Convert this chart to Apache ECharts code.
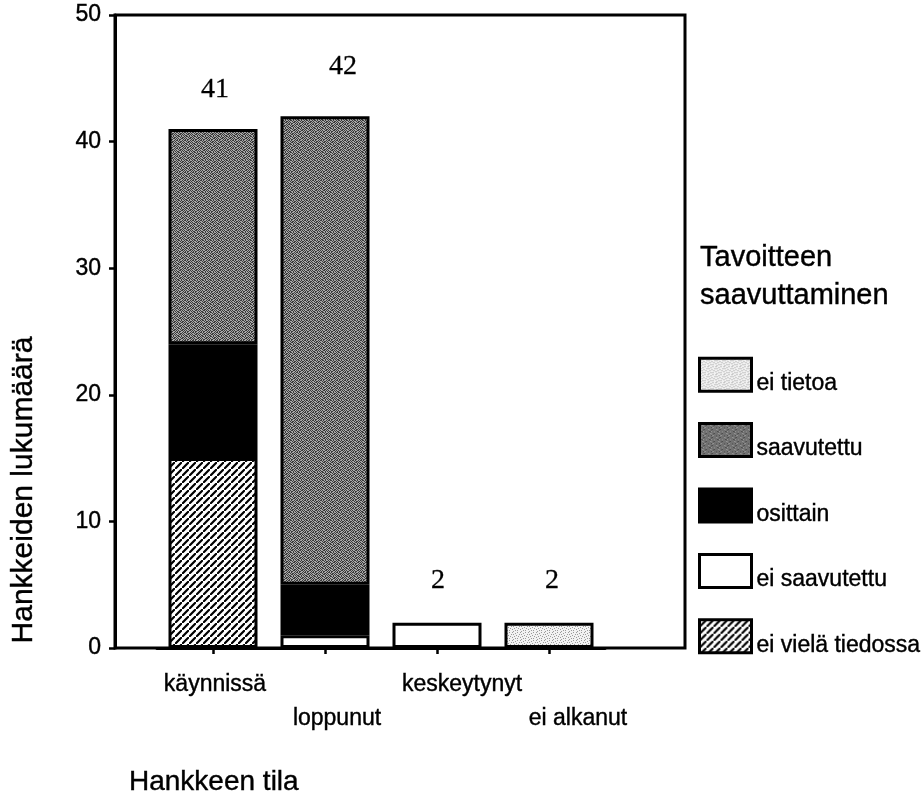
<!DOCTYPE html>
<html>
<head>
<meta charset="utf-8">
<script src="https://cdn.jsdelivr.net/npm/echarts@6/dist/echarts.min.js"></script>
<style>
  html, body { margin: 0; padding: 0; background: #fff; }
  #chart { width: 922px; height: 798px; }
</style>
</head>
<body>
<div id="chart"></div>
<script>
// Hankkeen tila (x) ja tavoitteen saavuttaminen (pinotut osat)
const categories = ['käynnissä', 'loppunut', 'keskeytynyt', 'ei alkanut'];
const eiVielaTiedossa = [15, 0, 0, 0];
const eiSaavutettu    = [0, 1, 2, 0];
const osittain        = [9, 4, 0, 0];
const saavutettu      = [17, 37, 0, 0];
const eiTietoa        = [0, 0, 0, 2];
const yTickValues     = [0, 10, 20, 30, 40, 50];

const SANS = 'Liberation Sans, Arial, sans-serif';
const SERIF = 'Liberation Serif, Times New Roman, serif';
// slight stroke to give the text its heavier printed look
const INK = { textBorderColor: '#000', textBorderWidth: 0.4 };

// Fill textures for the bar segments
function tile(w, h, draw) {
  const c = document.createElement('canvas');
  c.width = w; c.height = h;
  draw(c.getContext('2d'));
  return { image: c, repeat: 'repeat' };
}
function bitmap(rows, on, off) {
  return tile(rows[0].length, rows.length, g => {
    rows.forEach((r, y) => {
      for (let x = 0; x < r.length; x++) {
        g.fillStyle = r[x] === '1' ? on : off;
        g.fillRect(x, y, 1, 1);
      }
    });
  });
}
const hatchFill = tile(7, 7, g => {
  g.fillStyle = '#fff'; g.fillRect(0, 0, 7, 7);
  g.strokeStyle = '#000'; g.lineWidth = 2.2;
  g.beginPath();
  g.moveTo(-2, 9); g.lineTo(9, -2);
  g.moveTo(-5, 2); g.lineTo(2, -5);
  g.moveTo(5, 12); g.lineTo(12, 5);
  g.stroke();
});
const darkGrayFill = bitmap([
  '10110100', '01001011', '10100110', '01011001',
  '11010010', '00101101', '10011010', '01100101'
], '#3a3a3a', '#a8a8a8');
const lightGrayFill = bitmap([
  '10000100', '00010000', '01000001', '00001000',
  '00100010', '10000000', '00010100', '01000000'
], '#9a9a9a', '#f2f2f2');

const totals = categories.map((_, i) =>
  eiVielaTiedossa[i] + eiSaavutettu[i] + osittain[i] + saavutettu[i] + eiTietoa[i]);

// Label placement tweaks (pixels)
const totalLabelOffsets = [[2, -39], [18, -50], [1, -42], [3, -42]];
const catLabelPadding = [[0, 0, 0, 4], [34, 0, 0, 24], [0, 0, 0, 50], [34, 0, 0, 58]];

const rich = {};
catLabelPadding.forEach((p, i) => {
  rich['c' + i] = Object.assign({ fontFamily: SANS, fontSize: 23, color: '#000', padding: p }, INK);
});

function segment(name, values, fill) {
  return {
    name, type: 'bar', stack: 'tila', xAxisIndex: 1, yAxisIndex: 1,
    barWidth: 89,
    data: values.map(v => (v === 0 ? '-' : v)),
    itemStyle: { color: fill, borderColor: '#000', borderWidth: 3 },
    emphasis: { disabled: true }
  };
}

const chart = echarts.init(document.getElementById('chart'), null, { renderer: 'canvas' });
chart.setOption({
  animation: false,
  backgroundColor: '#fff',
  title: [
    {
      text: 'Tavoitteen\nsaavuttaminen', left: 695, top: 234,
      textStyle: Object.assign({ fontFamily: SANS, fontSize: 29, fontWeight: 'normal', color: '#000', lineHeight: 38 }, INK)
    },
    {
      text: 'Hankkeen tila', left: 124, top: 763,
      textStyle: Object.assign({ fontFamily: SANS, fontSize: 28, fontWeight: 'normal', color: '#000' }, INK)
    }
  ],
  graphic: [{
    type: 'text', x: 24, y: 490, rotation: Math.PI / 2,
    style: { text: 'Hankkeiden lukumäärä', fontFamily: SANS, fontSize: 30, fill: '#000', stroke: '#000', lineWidth: 0.4, align: 'center', verticalAlign: 'middle' }
  }],
  legend: {
    orient: 'vertical', left: 698, top: 354, padding: 0,
    icon: 'rect',
    itemWidth: 52, itemHeight: 33, itemGap: 24,
    selectedMode: false,
    data: ['ei tietoa', 'saavutettu', 'osittain', 'ei saavutettu', 'ei vielä tiedossa'],
    itemStyle: { borderColor: '#000', borderWidth: 3 },
    formatter: name => '\n' + name,
    textStyle: Object.assign({ fontFamily: SANS, fontSize: 23, color: '#000', lineHeight: 18 }, INK)
  },
  grid: [
    { left: 115, top: 15, width: 570, height: 633, show: true, borderColor: '#000', borderWidth: 3, backgroundColor: 'transparent' },
    { left: 157, top: 15, width: 448, height: 633 }
  ],
  xAxis: [
    { gridIndex: 0, type: 'value', min: 0, max: 1, show: false },
    {
      gridIndex: 1, type: 'category', data: categories,
      axisLine: { show: true, lineStyle: { color: '#000', width: 3 } },
      axisTick: { show: true, alignWithLabel: true, length: 6, lineStyle: { color: '#000', width: 2.5 } },
      axisLabel: {
        margin: 25, interval: 0,
        formatter: (v, i) => '{c' + i + '|' + v + '}',
        rich
      }
    }
  ],
  yAxis: [
    {
      gridIndex: 0, type: 'value', min: yTickValues[0], max: yTickValues[yTickValues.length - 1], interval: 10,
      axisLine: { show: true, lineStyle: { color: '#000', width: 3 } },
      axisTick: { show: true, length: 6, lineStyle: { color: '#000', width: 2.5 } },
      axisLabel: Object.assign({ margin: 14, fontFamily: SANS, fontSize: 23, color: '#000' }, INK),
      splitLine: { show: false }
    },
    { gridIndex: 1, type: 'value', min: 0, max: 50, show: false }
  ],
  series: [
    segment('ei vielä tiedossa', eiVielaTiedossa, hatchFill),
    segment('ei saavutettu', eiSaavutettu, '#fff'),
    segment('osittain', osittain, '#000'),
    segment('saavutettu', saavutettu, darkGrayFill),
    segment('ei tietoa', eiTietoa, lightGrayFill),
    {
      name: 'yhteensä', type: 'scatter', xAxisIndex: 1, yAxisIndex: 1,
      symbolSize: 1, itemStyle: { opacity: 0 },
      data: totals.map((t, i) => ({
        value: t,
        label: { offset: totalLabelOffsets[i] }
      })),
      label: Object.assign({
        show: true, position: 'inside', opacity: 1,
        fontFamily: SERIF, fontSize: 28, color: '#000',
        formatter: p => String(p.value)
      }, { textBorderColor: '#000', textBorderWidth: 0.3 }),
      emphasis: { disabled: true },
      silent: true
    }
  ]
});
</script>
</body>
</html>
